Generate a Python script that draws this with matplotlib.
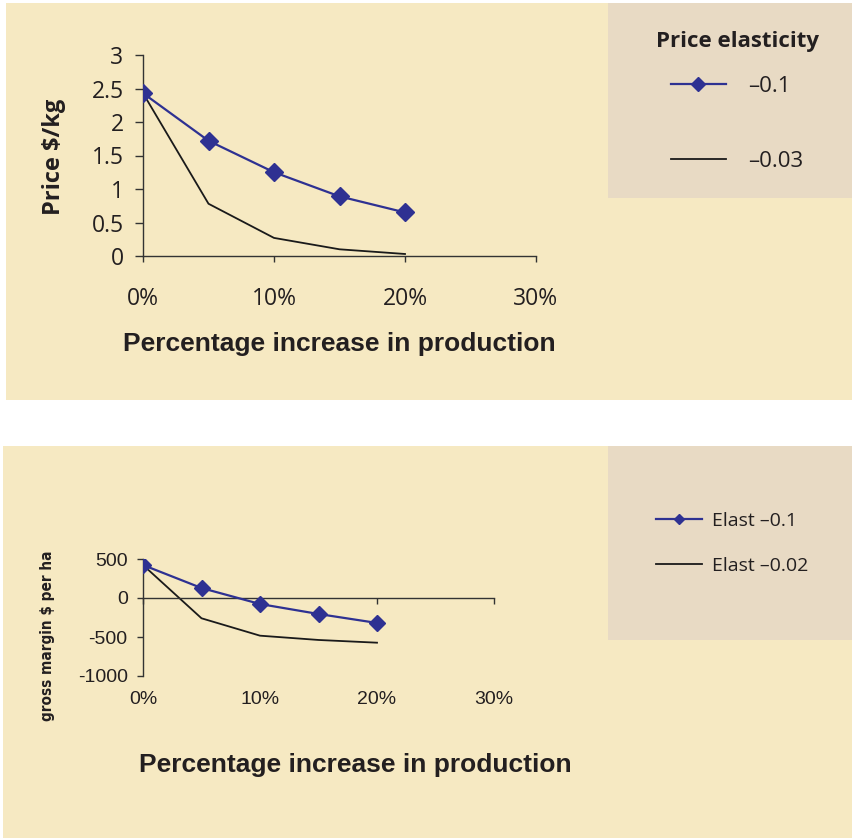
import matplotlib
matplotlib.use('Agg')
import matplotlib.pyplot as plt
from matplotlib.patches import Rectangle
from matplotlib.ticker import FuncFormatter

# data
pct_increase = [0.0, 0.05, 0.10, 0.15, 0.20]
price_el_01 = [2.43, 1.72, 1.25, 0.89, 0.65]
price_el_003 = [2.43, 0.78, 0.27, 0.10, 0.03]
gm_el_01 = [423, 128, -77, -205, -320]
gm_el_002 = [423, -260, -483, -538, -573]

x_ticks = [0.0, 0.1, 0.2, 0.3]
price_ticks = [0, 0.5, 1, 1.5, 2, 2.5, 3]
gm_ticks = [-1000, -500, 0, 500]

W, H = 852, 839
PANEL = '#F6E9C2'
LEGBG = '#E8DAC4'
BLUE = '#2E3192'
DARK = '#1A1A1A'
AXC = '#333333'
TXT = '#231F20'
MYRIAD = ['Open Sans', 'DejaVu Sans']
ARIAL = ['Liberation Sans', 'DejaVu Sans']

plt.rcParams['axes.unicode_minus'] = False

fig = plt.figure(figsize=(W / 100, H / 100), dpi=100)
fig.patch.set_facecolor('white')


def px_rect(x0, y0, x1, y1, color):
    # rectangle given in pixel coords (top-left origin)
    r = Rectangle((x0 / W, 1 - y1 / H), (x1 - x0) / W, (y1 - y0) / H,
                  transform=fig.transFigure, facecolor=color, edgecolor='none', zorder=-10)
    fig.add_artist(r)


def ax_px(x0, y0, x1, y1):
    return fig.add_axes([x0 / W, 1 - y1 / H, (x1 - x0) / W, (y1 - y0) / H])


px_rect(6, 3, 852, 400, PANEL)
px_rect(608, 3, 852, 198, LEGBG)
px_rect(3, 446, 852, 838, PANEL)
px_rect(608, 446, 852, 640, LEGBG)

pct_fmt = FuncFormatter(lambda v, p: '%d%%' % round(v * 100))

# ---- top chart: price ----
ax1 = ax_px(143, 55, 536, 256)
ax1.set_facecolor('none')
l1, = ax1.plot(pct_increase, price_el_01, color=BLUE, lw=1.6, marker='D', ms=9,
               markeredgecolor=BLUE, label='\u20130.1', zorder=3)
l2, = ax1.plot(pct_increase, price_el_003, color=DARK, lw=1.3, label='\u20130.03', zorder=2)
ax1.set_xlim(0, 0.3)
ax1.set_ylim(0, 3)
ax1.set_xticks(x_ticks)
ax1.set_yticks(price_ticks)
ax1.xaxis.set_major_formatter(pct_fmt)
ax1.set_yticklabels(['0', '0.5', '1', '1.5', '2', '2.5', '3'])
for s in ['top', 'right']:
    ax1.spines[s].set_visible(False)
for s in ['left', 'bottom']:
    ax1.spines[s].set_color(AXC)
    ax1.spines[s].set_linewidth(1.0)
ax1.tick_params(axis='y', length=6, width=1, color=AXC, pad=8, labelsize=16.5)
ax1.tick_params(axis='x', length=4, width=1, color=AXC, pad=18, labelsize=16.5)
for t in ax1.get_xticklabels() + ax1.get_yticklabels():
    t.set_family(MYRIAD)
    t.set_color(TXT)
ax1.set_ylabel('Price $/kg', family=MYRIAD, fontweight='bold', fontsize=17, color=TXT)
ax1.yaxis.set_label_coords(-0.197, 0.493)
ax1.set_xlabel('Percentage increase in production', family=ARIAL, fontweight='bold',
               fontsize=19, color=TXT)
ax1.xaxis.set_label_coords(0.50, -0.38)

leg1 = fig.legend(handles=[l1, l2], loc='upper center', bbox_to_anchor=(737 / W, 1 - 22 / H),
                  frameon=False, title='Price elasticity', handlelength=2.5, handletextpad=1.0,
                  labelspacing=2.45, markerscale=0.75, borderaxespad=0,
                  prop={'family': MYRIAD, 'size': 16})
leg1.get_title().set_family(MYRIAD)
leg1.get_title().set_fontweight('bold')
leg1.get_title().set_fontsize(16)
leg1.get_title().set_color(TXT)
for t in leg1.get_texts():
    t.set_color(TXT)
leg1._legend_box.sep = 17

# ---- bottom chart: gross margin ----
ax2 = ax_px(143, 559, 494, 676)
ax2.set_facecolor('none')
m1, = ax2.plot(pct_increase, gm_el_01, color=BLUE, lw=1.6, marker='D', ms=8,
               markeredgecolor=BLUE, label='Elast \u20130.1', zorder=3)
m2, = ax2.plot(pct_increase, gm_el_002, color=DARK, lw=1.3, label='Elast \u20130.02', zorder=2)
ax2.set_xlim(0, 0.3)
ax2.set_ylim(-1000, 500)
ax2.set_xticks(x_ticks)
ax2.set_yticks(gm_ticks)
ax2.xaxis.set_major_formatter(pct_fmt)
ax2.spines['bottom'].set_position(('data', 0))
for s in ['top', 'right']:
    ax2.spines[s].set_visible(False)
for s in ['left', 'bottom']:
    ax2.spines[s].set_color(AXC)
    ax2.spines[s].set_linewidth(1.0)
ax2.tick_params(axis='y', length=4, width=1, color=AXC, pad=7, labelsize=14)
ax2.tick_params(axis='x', length=4, width=1, color=AXC, pad=63, labelsize=14)
for t in ax2.get_xticklabels() + ax2.get_yticklabels():
    t.set_family(ARIAL)
    t.set_color(TXT)
ax2.set_ylabel('gross margin $ per ha', family=['DejaVu Sans'], fontstretch='condensed',
               fontweight='bold', fontsize=11, color=TXT)
ax2.yaxis.set_label_coords(-0.25, 0.34)
ax2.set_xlabel('Percentage increase in production', family=ARIAL, fontweight='bold',
               fontsize=19, color=TXT)
ax2.xaxis.set_label_coords(0.604, -0.66)

leg2 = fig.legend(handles=[m1, m2], loc='upper left', bbox_to_anchor=(648 / W, 1 - 504 / H),
                  frameon=False, handlelength=2.4, handletextpad=0.5,
                  labelspacing=1.4, markerscale=0.7, borderaxespad=0,
                  prop={'family': MYRIAD, 'size': 14})
for t in leg2.get_texts():
    t.set_color(TXT)

fig.savefig('out.png', dpi=100, facecolor='white')
